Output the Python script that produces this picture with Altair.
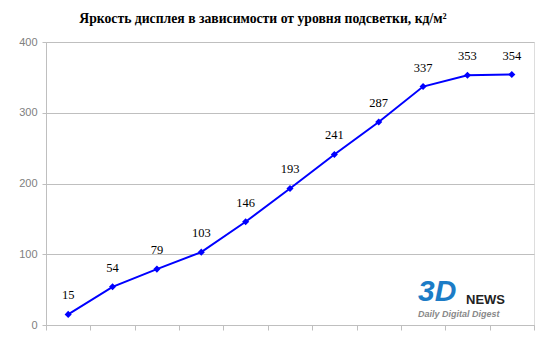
import altair as alt
import pandas as pd

levels = list(range(1, 12))
values = [15, 54, 79, 103, 146, 193, 241, 287, 337, 353, 354]
title_text = "Яркость дисплея в зависимости от уровня подсветки, кд/м²"

df = pd.DataFrame({"level": levels, "value": values})

grey = "#BFBFBF"

x = alt.X("level:O", title=None,
          scale=alt.Scale(type="band", paddingInner=0, paddingOuter=0),
          axis=alt.Axis(labels=False, tickBand="extent", tickSize=5, tickColor=grey,
                        domainColor=grey, grid=False))
y = alt.Y("value:Q", title=None,
          scale=alt.Scale(domain=[0, 400]),
          axis=alt.Axis(values=[0, 100, 200, 300, 400], tickSize=4, tickColor=grey,
                        domainColor=grey, gridColor=grey, labelColor="#808080",
                        labelFont="Liberation Sans", labelFontSize=11, labelPadding=5))

base = alt.Chart(df)

line = base.mark_line(color="#0000FF", strokeWidth=2).encode(x=x, y=y)
pts = base.mark_point(shape="diamond", filled=True, color="#0000FF", size=50, opacity=1).encode(x=x, y=y)
labels = base.mark_text(dy=-19, font="Liberation Serif", fontSize=12.5, color="#000000").encode(
    x=x, y=y, text="value:Q")

logo_df = pd.DataFrame({"t": ["3D", "NEWS", "Daily Digital Digest"]})
logo3d = alt.Chart(logo_df).transform_filter(alt.datum.t == "3D").mark_text(
    font="Liberation Sans", fontSize=30, fontWeight="bold", fontStyle="italic",
    color="#1C7CC6", align="left", baseline="alphabetic").encode(
    x=alt.value(372), y=alt.value(259), text="t:N")
logonews = alt.Chart(logo_df).transform_filter(alt.datum.t == "NEWS").mark_text(
    font="Liberation Sans", fontSize=13, fontWeight="bold",
    color="#222222", align="left", baseline="alphabetic").encode(
    x=alt.value(420), y=alt.value(262), text="t:N")
logodd = alt.Chart(logo_df).transform_filter(alt.datum.t == "Daily Digital Digest").mark_text(
    font="Liberation Sans", fontSize=9, fontWeight="bold", fontStyle="italic",
    color="#888888", align="left", baseline="alphabetic").encode(
    x=alt.value(372), y=alt.value(275), text="t:N")

chart = alt.layer(line, pts, labels, logo3d, logonews, logodd).properties(
    width=488, height=283,
    autosize=alt.AutoSizeParams(type="none"),
    padding={"left": 46, "top": 42, "right": 16, "bottom": 31},
    title=alt.TitleParams(title_text, font="Liberation Serif", fontSize=13.7,
                          fontWeight="bold", color="#000000", anchor="middle",
                          offset=10, dx=-27),
).configure_view(stroke=grey, strokeWidth=1).configure(background="white")

chart.save("out.html", embed_options={"renderer": "svg", "actions": False})
